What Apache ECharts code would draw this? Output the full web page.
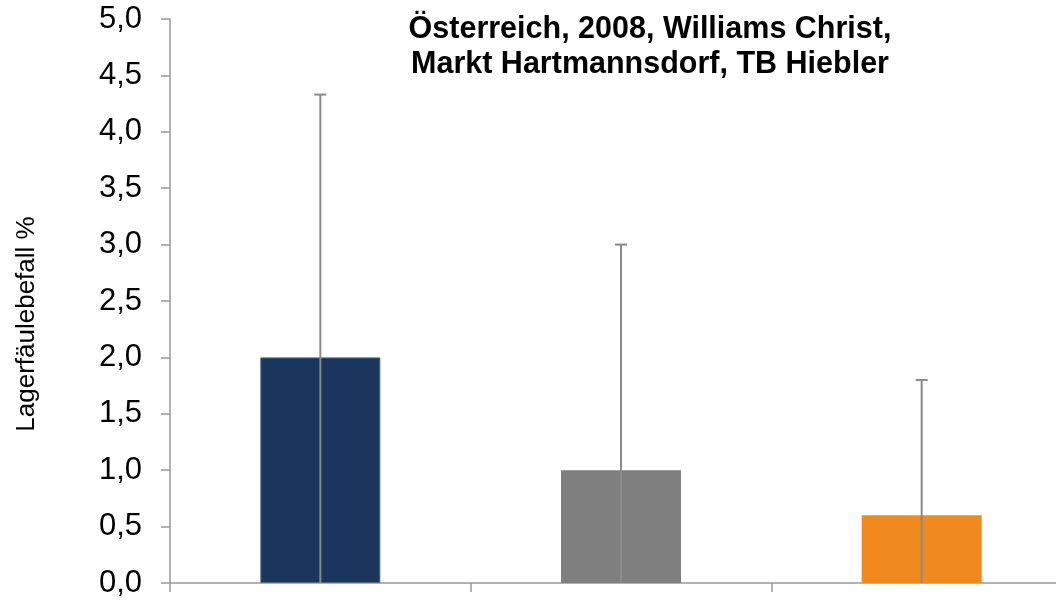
<!DOCTYPE html>
<html>
<head>
<meta charset="utf-8">
<script src="https://cdn.jsdelivr.net/npm/echarts@6/dist/echarts.min.js"></script>
<style>
html,body{margin:0;padding:0;overflow:hidden;background:#fff;}
#chart{width:1072px;height:600px;}
</style>
</head>
<body>
<div id="chart"></div>
<script>
const categories = ['Variante 1', 'Variante 2', 'Variante 3'];
const values = [2.0, 1.0, 0.6];
const errors = [2.33, 2.0, 1.2];
const barColors = ['#1B365C', '#7F7F7F', '#F0891E'];
const titleText = 'Österreich, 2008, Williams Christ,\nMarkt Hartmannsdorf, TB Hiebler';
const yAxisName = 'Lagerfäulebefall %';

const FONT = '"Liberation Sans", Arial, sans-serif';
const chart = echarts.init(document.getElementById('chart'));

const errData = values.map((v, i) => [i, Math.max(0, v - errors[i]), v + errors[i]]);

chart.setOption({
  animation: false,
  title: {
    text: titleText,
    left: 650, top: 12, padding: 0,
    textAlign: 'center',
    textStyle: { fontFamily: FONT, fontSize: 30.5, fontWeight: 'bold', color: '#000', lineHeight: 35 }
  },
  grid: { left: 170, right: 0, top: 19, bottom: 17, containLabel: false },
  xAxis: {
    type: 'category',
    data: categories,
    axisLine: { lineStyle: { color: '#999', width: 1.5 } },
    axisTick: { show: true, length: 9, lineStyle: { color: '#999', width: 1.5 } },
    axisLabel: { show: false },
    splitLine: { show: false }
  },
  yAxis: {
    type: 'value',
    min: 0, max: 5, interval: 0.5,
    name: yAxisName,
    nameLocation: 'middle',
    nameGap: 130,
    nameTextStyle: { fontFamily: FONT, fontSize: 26, color: '#000', padding: [0, 46, 0, 0] },
    axisLine: { show: true, lineStyle: { color: '#999', width: 1.5 } },
    axisTick: { show: true, length: 9, lineStyle: { color: '#999', width: 1.5 } },
    axisLabel: {
      margin: 28,
      fontFamily: FONT, fontSize: 31, color: '#000',
      formatter: v => v.toFixed(1).replace('.', ',')
    },
    splitLine: { show: false }
  },
  series: [
    {
      type: 'bar',
      barWidth: 120,
      data: values.map((v, i) => ({
        value: v,
        itemStyle: {
          color: barColors[i],
          borderColor: i === 0 ? '#4A6684' : barColors[i],
          borderWidth: i === 0 ? 1 : 0
        }
      })),
      z: 2
    },
    {
      type: 'custom',
      data: errData,
      z: 5,
      renderItem: function (params, api) {
        const x = api.value(0);
        const lo = api.coord([x, api.value(1)]);
        const hi = api.coord([x, api.value(2)]);
        const cap = 6;
        const style = { stroke: '#8A8A8A', lineWidth: 2 };
        return {
          type: 'group',
          children: [
            { type: 'line', shape: { x1: lo[0], y1: lo[1], x2: hi[0], y2: hi[1] }, style: style },
            { type: 'line', shape: { x1: hi[0] - cap, y1: hi[1], x2: hi[0] + cap, y2: hi[1] }, style: style }
          ]
        };
      }
    }
  ]
});
</script>
</body>
</html>
